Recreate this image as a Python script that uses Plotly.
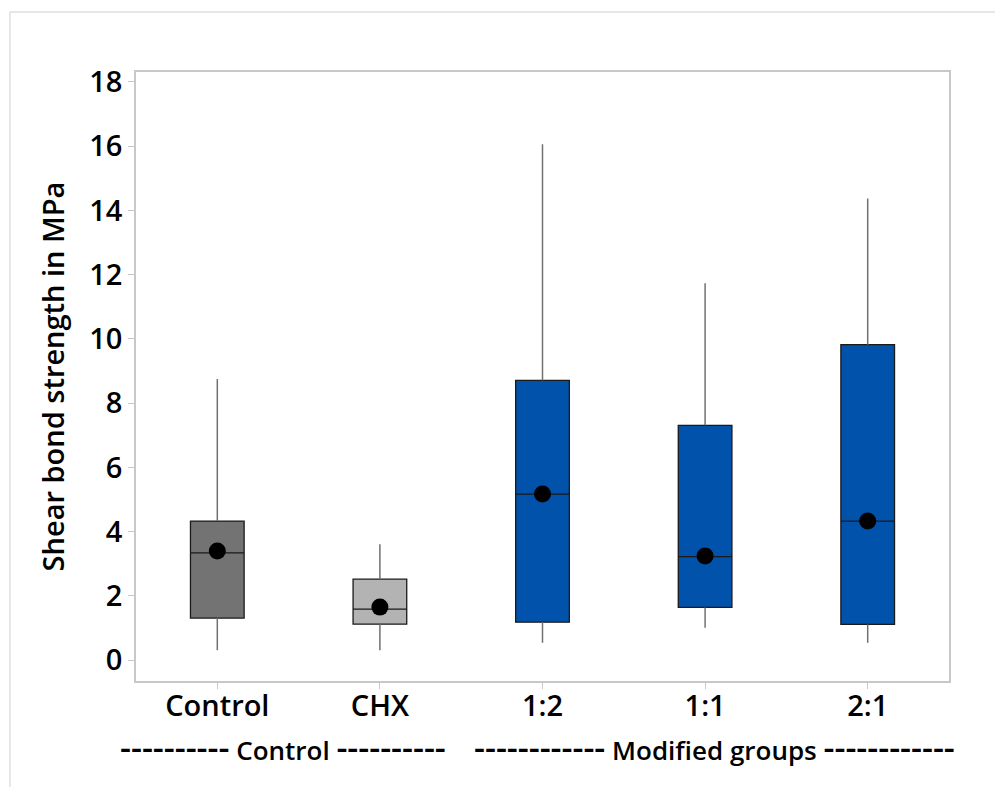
import plotly.graph_objects as go

categories = ["Control", "CHX", "1:2", "1:1", "2:1"]
whisker_low = [0.31, 0.31, 0.54, 1.01, 0.54]
q1 = [1.31, 1.12, 1.18, 1.64, 1.11]
median = [3.34, 1.59, 5.17, 3.22, 4.33]
q3 = [4.33, 2.52, 8.71, 7.31, 9.82]
whisker_high = [8.75, 3.61, 16.06, 11.73, 14.37]
means = [3.40, 1.65, 5.17, 3.24, 4.33]
fill_colors = ["#737373", "#b3b3b3", "#0052AB", "#0052AB", "#0052AB"]
y_ticks = [0, 2, 4, 6, 8, 10, 12, 14, 16, 18]
group_names = ["Control", "Modified groups"]
group_dashes = [10, 12]

FONT = "Open Sans"
fig = go.Figure()

# whiskers (gray), drawn as segments outside the boxes
wx, wy = [], []
for c, lo, a, b, hi in zip(categories, whisker_low, q1, q3, whisker_high):
    wx += [c, c, None, c, c, None]
    wy += [lo, a, None, b, hi, None]
fig.add_trace(go.Scatter(x=wx, y=wy, mode="lines", line=dict(color="#707070", width=1.5),
                         hoverinfo="skip", showlegend=False))

for i, c in enumerate(categories):
    fig.add_trace(go.Box(
        x=[c], q1=[q1[i]], median=[median[i]], q3=[q3[i]],
        lowerfence=[q1[i]], upperfence=[q3[i]],
        fillcolor=fill_colors[i], line=dict(color="#1a1a1a", width=1.3),
        whiskerwidth=0, width=0.33, boxpoints=False, showlegend=False,
    ))

fig.add_trace(go.Scatter(x=categories, y=means, mode="markers",
                         marker=dict(color="black", size=17), showlegend=False))

fig.update_layout(
    width=995, height=787,
    margin=dict(l=136, r=46, t=72, b=106),
    paper_bgcolor="white", plot_bgcolor="white",
    font=dict(family=FONT, color="black"),
    boxmode="overlay",
    showlegend=False,
)
fig.update_xaxes(
    categoryorder="array", categoryarray=categories, range=[-0.5, 4.5],
    showline=True, mirror=True, linecolor="#c8c8c8", linewidth=1.5,
    ticks="outside", ticklen=6, tickcolor="#c8c8c8", showgrid=False, zeroline=False,
    ticklabelstandoff=-8,
    tickfont=dict(family=FONT, size=29, color="black", weight=600),
)
fig.update_yaxes(
    range=[-0.65, 18.31], tickvals=y_ticks,
    showline=True, mirror=True, linecolor="#c8c8c8", linewidth=1.5,
    ticks="outside", ticklen=6, tickcolor="#c8c8c8", showgrid=False, zeroline=False,
    tickfont=dict(family=FONT, size=29, color="black", weight=600),
    title=dict(text="Shear bond strength in MPa", standoff=16,
               font=dict(family=FONT, size=29, color="black", weight=600)),
)

for name, nd, xc in zip(group_names, group_dashes, [0.181, 0.712]):
    d = "<span style='font-size:34px'>" + "-" * nd + "</span>"
    fig.add_annotation(text=d + " " + name + " " + d, xref="paper", yref="paper", x=xc, y=-0.108,
                       xanchor="center", yanchor="middle",
                       showarrow=False, font=dict(family=FONT, size=26, color="black", weight=600))

fig.add_shape(type="rect", xref="paper", yref="paper", x0=-0.155, y0=-0.3, x1=1.2, y1=1.0985,
              line=dict(color="#e0e0e0", width=1.5), layer="below")

fig.write_html("out.html", config={"displayModeBar": False},
               post_script="document.body.style.margin='0';")
